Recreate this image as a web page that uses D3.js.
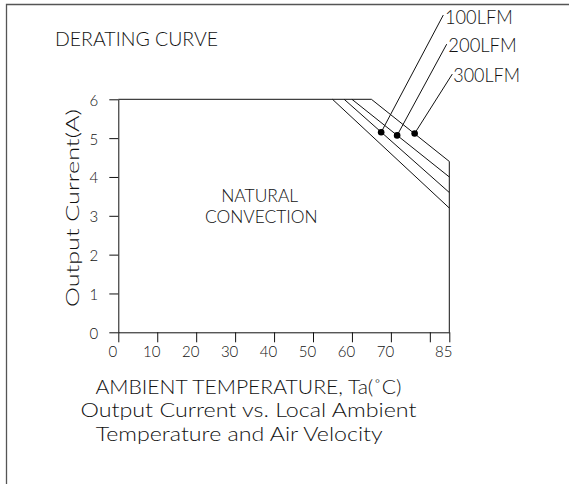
<!DOCTYPE html>
<html>
<head>
<meta charset="utf-8">
<script src="https://cdn.jsdelivr.net/npm/d3@7"></script>
<style>
  html, body { margin: 0; padding: 0; background: #fff; }
  svg { display: block; }
  text { font-family: Lato, "Open Sans", "Liberation Sans", sans-serif; font-weight: 300; fill: #111; }
</style>
</head>
<body>
<svg id="chart" width="569" height="484"></svg>
<script>
// ---- data ----
const xTicks = [0, 10, 20, 30, 40, 50, 60, 70, 80, 85];
const xTickLabels = ["0", "10", "20", "30", "40", "50", "60", "70", "", "85"];
const yTicks = [0, 1, 2, 3, 4, 5, 6];
const yTickLabels = ["0", "1", "2", "3", "4", "5", "6"];

const seriesNames = ["NATURAL CONVECTION", "100LFM", "200LFM", "300LFM"];
const naturalTemp = [55, 85];
const naturalCurrent = [6, 3.2];
const lfm100Temp = [58, 85];
const lfm100Current = [6, 3.6];
const lfm200Temp = [60, 85];
const lfm200Current = [6, 4.0];
const lfm300Temp = [0, 65, 85, 85];
const lfm300Current = [6, 6, 4.4, 0];

const markerTemp = [67.5, 71.6, 76.1];
const markerCurrent = [5.15, 5.07, 5.12];

const titleText = "DERATING CURVE";
const xTitle = "AMBIENT TEMPERATURE, Ta(\u02DAC)";
const yTitle = "Output  Current(A)";
const captionLines = ["Output Current vs. Local Ambient", "Temperature and Air Velocity"];

// ---- layout ----
const FONT = "Lato, 'Open Sans', 'Liberation Sans', sans-serif";
const svg = d3.select("#chart");
const x = d3.scaleLinear().domain([0, 85]).range([118.3, 449.3]);
const y = d3.scaleLinear().domain([0, 6]).range([332.3, 99.3]);

// frame
svg.append("path")
  .attr("d", "M6.5,484 L6.5,4.5 L569,4.5")
  .attr("fill", "none").attr("stroke", "#555").attr("stroke-width", 1.3);

// y axis
const yAxis = d3.axisLeft(y).tickValues(yTicks)
  .tickFormat((d, i) => yTickLabels[i]).tickSize(9).tickSizeOuter(0).tickPadding(11);
const gy = svg.append("g").attr("transform", `translate(${x(0)},0)`).call(yAxis);
gy.selectAll("text").style("font-size", "15px").attr("dy", "0.4em")
  .style("font-family", FONT).style("font-weight", 300);

// x axis
const xAxis = d3.axisBottom(x).tickValues(xTicks)
  .tickFormat((d, i) => xTickLabels[i]).tickSize(10).tickSizeOuter(0).tickPadding(4);
const gx = svg.append("g").attr("transform", `translate(0,${y(0)})`).call(xAxis);
gx.selectAll("text").style("font-size", "15px").attr("dx", "-6")
  .style("font-family", FONT).style("font-weight", 300);

svg.selectAll(".domain, .tick line").attr("stroke", "#111").attr("stroke-width", 1);

// curves
const line = d3.line().x(d => x(d[0])).y(d => y(d[1]));
const curves = [
  d3.zip(naturalTemp, naturalCurrent),
  d3.zip(lfm100Temp, lfm100Current),
  d3.zip(lfm200Temp, lfm200Current),
  d3.zip(lfm300Temp, lfm300Current)
];
svg.selectAll("path.curve").data(curves).enter().append("path")
  .attr("class", "curve")
  .attr("d", line)
  .attr("fill", "none").attr("stroke", "#111").attr("stroke-width", 1);

// markers + leader lines to labels (anchors in data units)
const leaderTops = [[83.46, 8.17], [84.33, 7.42], [85.77, 6.65]];
const labelPos = [[445, 24.3, 67.7], [448.3, 51.7, 68.4], [453.3, 81.7, 66.7]];
markerTemp.forEach((t, i) => {
  svg.append("line")
    .attr("x1", x(t)).attr("y1", y(markerCurrent[i]))
    .attr("x2", x(leaderTops[i][0])).attr("y2", y(leaderTops[i][1]))
    .attr("stroke", "#111").attr("stroke-width", 1);
  svg.append("circle")
    .attr("cx", x(t)).attr("cy", y(markerCurrent[i])).attr("r", 3.3)
    .attr("fill", "#000");
  svg.append("text")
    .attr("x", labelPos[i][0]).attr("y", labelPos[i][1])
    .attr("textLength", labelPos[i][2]).attr("lengthAdjust", "spacingAndGlyphs")
    .style("font-size", "19px")
    .text(seriesNames[i + 1]);
});

// in-plot label
const nc = seriesNames[0].split(" ");
svg.append("text").attr("x", 259.7).attr("y", 202.3).attr("text-anchor", "middle")
  .attr("textLength", 77).attr("lengthAdjust", "spacingAndGlyphs")
  .style("font-size", "17.4px").text(nc[0]);
svg.append("text").attr("x", 261.3).attr("y", 223.3).attr("text-anchor", "middle")
  .attr("textLength", 112.7).attr("lengthAdjust", "spacingAndGlyphs")
  .style("font-size", "17.4px").text(nc[1]);

// titles
svg.append("text").attr("x", 55).attr("y", 46)
  .attr("textLength", 163).attr("lengthAdjust", "spacingAndGlyphs")
  .style("font-size", "20px").text(titleText.replace(" ", "  "));

svg.append("text").attr("x", 95.5).attr("y", 394)
  .attr("textLength", 306).attr("lengthAdjust", "spacingAndGlyphs")
  .style("font-size", "19px").text(xTitle);

svg.append("text").attr("x", 80.5).attr("y", 417.3)
  .attr("textLength", 336).attr("lengthAdjust", "spacingAndGlyphs")
  .style("font-size", "19px").text(captionLines[0]);
svg.append("text").attr("x", 95.7).attr("y", 440.7)
  .attr("textLength", 287).attr("lengthAdjust", "spacingAndGlyphs")
  .style("font-size", "19px").text(captionLines[1]);

svg.append("text")
  .attr("transform", "translate(79.3,208) rotate(-90)")
  .attr("text-anchor", "middle")
  .attr("textLength", 198).attr("lengthAdjust", "spacingAndGlyphs")
  .style("font-size", "17px").text(yTitle);
</script>
</body>
</html>
